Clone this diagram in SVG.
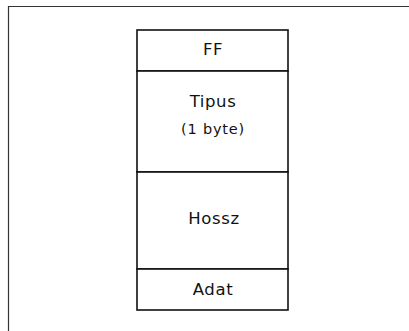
<svg xmlns="http://www.w3.org/2000/svg" width="409" height="331" viewBox="0 0 409 331">
<style>
.frame{fill:none;stroke:#333;stroke-width:1.2}
.box{fill:#fff;stroke:#111;stroke-width:1.6}
.lbl{font-family:"DejaVu Sans","Liberation Sans",sans-serif;font-size:16.5px;letter-spacing:0.6px;fill:#111;text-anchor:middle}
</style>
<rect width="409" height="331" fill="#fff"/>
<path class="frame" d="M8.5 331 V6.5 H409"/>
<g id="ff"><rect class="box" x="137" y="30" width="151" height="41"/><text class="lbl" x="213" y="55">FF</text></g>
<g id="tipus"><rect class="box" x="137" y="71" width="151" height="101"/><text class="lbl" x="213" y="107">Tipus</text><text class="lbl" x="213" y="134" style="font-size:14.5px;letter-spacing:0.8px">(1 byte)</text></g>
<g id="hossz"><rect class="box" x="137" y="172" width="151" height="97"/><text class="lbl" x="214" y="224">Hossz</text></g>
<g id="adat"><rect class="box" x="137" y="269" width="151" height="41"/><text class="lbl" x="213" y="295">Adat</text></g>
<g id="connectors"/>
</svg>
